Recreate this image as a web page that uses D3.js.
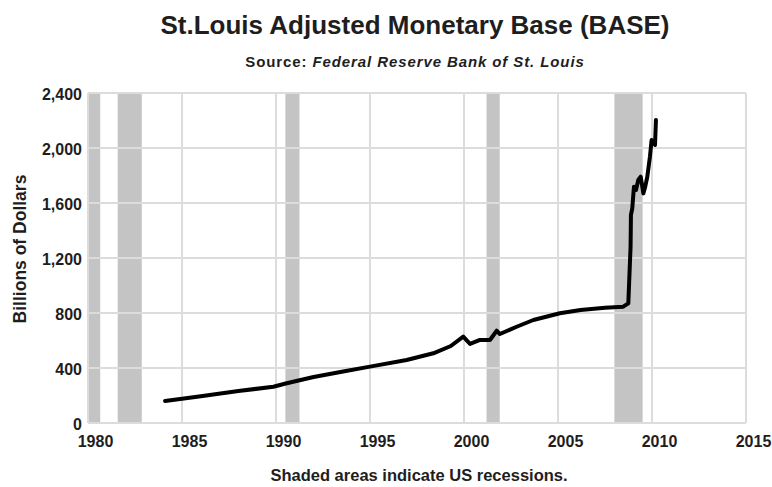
<!DOCTYPE html>
<html>
<head>
<meta charset="utf-8">
<script src="https://cdn.jsdelivr.net/npm/d3@7"></script>
<style>
  html, body { margin: 0; padding: 0; background: #fff; }
  svg { display: block; font-family: "Liberation Sans", Arial, sans-serif; }
</style>
</head>
<body>
<svg id="chart" width="772" height="487"></svg>
<script>
// ---- data ----
const years = [1984.1, 1986.0, 1988.0, 1989.86, 1990.57, 1992.0, 1993.5, 1995.0, 1996.95, 1998.37, 1999.3, 1999.96, 2000.32, 2000.85, 2001.38, 2001.74, 2001.91, 2002.8, 2003.69, 2005.1, 2006.2, 2007.5, 2008.47, 2008.74, 2008.86, 2008.88, 2008.95, 2009.04, 2009.15, 2009.27, 2009.4, 2009.54, 2009.64, 2009.75, 2009.89, 2009.98, 2010.16, 2010.21];
const values = [160, 195, 232, 264, 289, 335, 373, 410, 458, 507, 560, 628, 575, 604, 604, 671, 647, 700, 749, 798, 822, 838, 846, 870, 1282, 1513, 1560, 1719, 1695, 1767, 1791, 1670, 1719, 1791, 1937, 2058, 2022, 2204];
const recessionStart = [1980.0, 1981.58, 1990.5, 2001.2, 2008.0];
const recessionEnd   = [1980.65, 1982.86, 1991.25, 2001.9, 2009.5];
const xTicks = [1980, 1985, 1990, 1995, 2000, 2005, 2010, 2015];
const yTicks = [0, 400, 800, 1200, 1600, 2000, 2400];
const titleText = "St.Louis Adjusted Monetary Base (BASE)";
const noteText = "Shaded areas indicate US recessions.";
const yLabel = "Billions of Dollars";

// ---- layout ----
const svg = d3.select("#chart");
const m = { left: 88, right: 746, top: 93, bottom: 423 };
const x = d3.scaleLinear().domain([1980, 2015]).range([m.left, m.right]);
const y = d3.scaleLinear().domain([0, 2400]).range([m.bottom, m.top]);
const ink = "#1e1e1e";

// recessions
svg.append("g").selectAll("rect").data(recessionStart).join("rect")
  .attr("x", (d) => x(d))
  .attr("width", (d, i) => x(recessionEnd[i]) - x(d))
  .attr("y", m.top).attr("height", m.bottom - m.top)
  .attr("fill", "#c4c4c4");

// grid
const grid = svg.append("g").attr("stroke", "#dcdcdc").attr("stroke-width", 2);
grid.selectAll("line.v").data(xTicks).join("line").attr("class", "v")
  .attr("x1", (d) => x(d)).attr("x2", (d) => x(d))
  .attr("y1", m.top).attr("y2", m.bottom);
grid.selectAll("line.h").data(yTicks).join("line").attr("class", "h")
  .attr("x1", m.left).attr("x2", m.right)
  .attr("y1", (d) => y(d)).attr("y2", (d) => y(d));

// axes (labels only)
const xAxis = svg.append("g").attr("transform", `translate(7,${m.bottom})`)
  .call(d3.axisBottom(x).tickValues(xTicks).tickFormat(d3.format("d")).tickSize(0).tickPadding(13));
const yAxis = svg.append("g").attr("transform", `translate(${m.left},0)`)
  .call(d3.axisLeft(y).tickValues(yTicks).tickFormat(d3.format(",")).tickSize(0).tickPadding(6));
[xAxis, yAxis].forEach((a) => {
  a.select(".domain").remove();
  a.selectAll("text").attr("fill", ink).style("font-size", "16px").style("font-weight", "bold")
    .style("font-family", "'Liberation Sans', Arial, sans-serif");
});
yAxis.selectAll("text").attr("dy", "0.4em");

// line
const line = d3.line().x((d, i) => x(years[i])).y((d) => y(d));
svg.append("path").datum(values)
  .attr("d", line).attr("fill", "none").attr("stroke", "#000")
  .attr("stroke-width", 4).attr("stroke-linejoin", "round").attr("stroke-linecap", "round");

// texts
svg.append("text").attr("x", 415).attr("y", 34).attr("text-anchor", "middle")
  .attr("fill", ink).style("font-size", "26px").style("font-weight", "bold").text(titleText);
const sub = svg.append("text").attr("x", 415).attr("y", 67).attr("text-anchor", "middle")
  .attr("fill", ink).style("font-size", "15px").style("font-weight", "bold")
  .style("letter-spacing", "0.9px");
sub.append("tspan").text("Source: ");
sub.append("tspan").style("font-style", "italic").text("Federal Reserve Bank of St. Louis");
svg.append("text").attr("transform", "translate(26,249) rotate(-90)").attr("text-anchor", "middle")
  .attr("fill", ink).style("font-size", "17.5px").style("font-weight", "bold").text(yLabel);
svg.append("text").attr("x", 419).attr("y", 481).attr("text-anchor", "middle")
  .attr("fill", ink).style("font-size", "16.5px").style("font-weight", "bold").text(noteText);
</script>
</body>
</html>
